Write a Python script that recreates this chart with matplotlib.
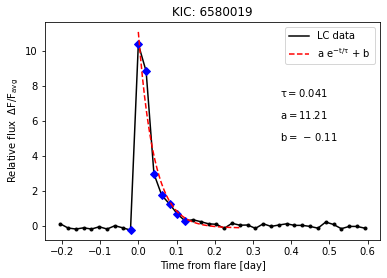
import numpy as np
import matplotlib
matplotlib.use('Agg')
import matplotlib.pyplot as plt

plt.rcParams['mathtext.default'] = 'regular'

# Kepler long cadence light curve around the flare
cadence = 0.02043
n_idx = np.arange(-10, 30)
time = n_idx * cadence
flux = [0.13, -0.11, -0.17, -0.10, -0.17, -0.04, -0.17, 0.02, -0.10, -0.23,
        10.40, 8.85, 2.99, 1.76, 1.26, 0.69, 0.29, 0.36, 0.25, 0.13,
        0.10, -0.13, 0.16, 0.05, 0.06, -0.13, 0.13, -0.02, 0.06, 0.13,
        0.04, 0.04, -0.02, -0.12, 0.23, 0.09, -0.15, -0.02, -0.02, -0.12]
flux = np.array(flux)

# points flagged as flare
flare_idx = np.arange(9, 17)

# fit parameters
tau = 0.041
a = 11.21
b = -0.11
t_fit = np.linspace(0, 0.27, 200)
f_fit = a * np.exp(-t_fit / tau) + b

fig = plt.figure(figsize=(387 / 72, 278 / 72), dpi=72)
ax = fig.add_axes([45 / 387, 38 / 278, 335 / 387, 218 / 278])

ax.plot(time, flux, color='black', lw=1.5, label='LC data')
ax.plot(time, flux, '.', color='black', ms=6)
ax.plot(time[flare_idx], flux[flare_idx], 'D', color='blue', ms=5.5)
ax.plot(t_fit, f_fit, '--', color='red', lw=1.5, label=r'a e$^{-t/\tau}$ + b')

ax.text(0.37, 7.6, r'$\tau = %.3f$' % tau, va='center')
ax.text(0.37, 6.35, r'$a = %.2f$' % a, va='center')
ax.text(0.37, 5.1, r'$b =\,-\,%.2f$' % abs(b), va='center')

ax.set_xticks([-0.2, -0.1, 0.0, 0.1, 0.2, 0.3, 0.4, 0.5, 0.6])
ax.set_xlabel('Time from flare [day]')
ax.set_ylabel(r'Relative flux  $\Delta F/F_{avg}$')
ax.set_title('KIC: 6580019')
ax.legend(loc='upper right')

fig.savefig('out.png', dpi=72)
